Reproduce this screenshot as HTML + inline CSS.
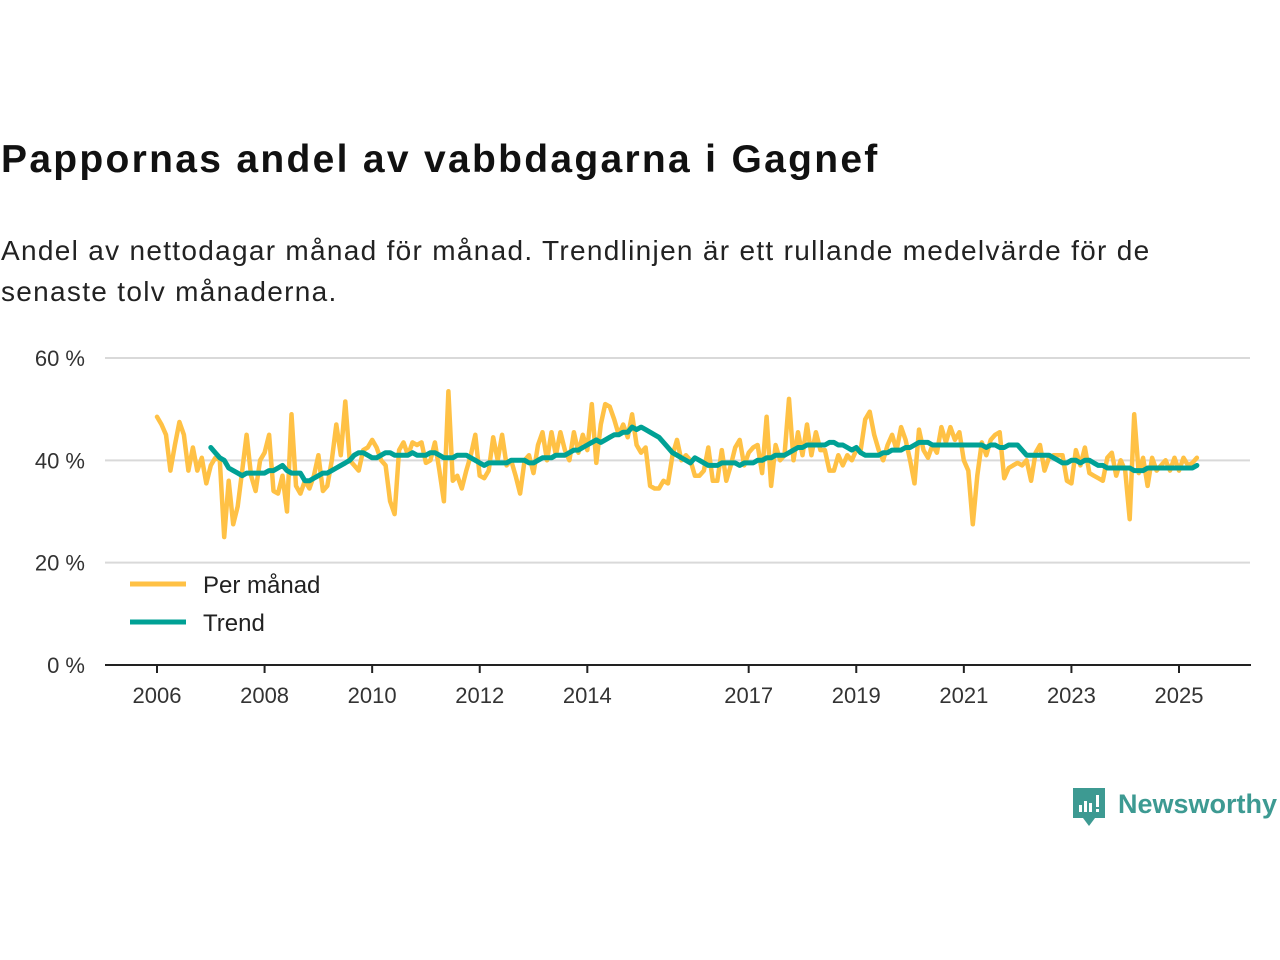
<!DOCTYPE html>
<html><head><meta charset="utf-8"><style>
body{margin:0;width:1280px;height:960px;background:#fff;font-family:"Liberation Sans",sans-serif;overflow:hidden;position:relative}
#title{position:absolute;left:1px;top:138px;font-size:39px;letter-spacing:2.3px;font-weight:bold;color:#111;margin:0}
#sub{position:absolute;left:1px;top:230px;font-size:28px;letter-spacing:1.3px;line-height:41px;color:#222;width:1225px}
svg{position:absolute;left:0;top:0}
</style></head><body>
<h1 id="title">Pappornas andel av vabbdagarna i Gagnef</h1>
<div id="sub">Andel av nettodagar månad för månad. Trendlinjen är ett rullande medelvärde för de senaste tolv månaderna.</div>
<svg id="chart" width="1280" height="960"></svg>
<script>
const yTicks=[0,20,40,60];
const xTickYears=[2006,2008,2010,2012,2014,2017,2019,2021,2023,2025];
const monthly=[
48.5,47,45,38,43,47.5,45,38,42.5,38,40.5,35.5,
39,40.5,40,25,36,27.5,31,38,45,37,34,40,
41.5,45,34,33.5,37,30,49,35,33.5,36,34.5,37,
41,34,35,40,47,41,51.5,40,39,38,42,42.5,
44,42.5,40,39,32,29.5,42,43.5,41,43.5,43,43.5,
39.5,40,43.5,38,32,53.5,36,37,34.5,38,41,45,
37,36.5,38,44.5,40,45,39,40,37,33.5,40,41,
37.5,43,45.5,40,45.5,41,45.5,42,40,45.5,41.5,45,
42,51,39.5,47,51,50.5,48,45,47,44.5,49,43,
41.5,42.5,35,34.5,34.5,36,35.5,41,44,40,41,40,
37,37,38,42.5,36,36,42,36,39,42.5,44,39,
41.5,42.5,43,37.5,48.5,35,43,40,41,52,40,45.5,
41,47,41,45.5,42,42,38,38,41,39,41,40,
42,42,48,49.5,45,42,40,43,45,42,46.5,44,
40,35.5,46,42,40.5,43,41.5,46.5,43.5,46.5,44,45.5,
40,38,27.5,37,43.5,41,44,45,45.5,36.5,38.5,39,
39.5,39,40,36,41.5,43,38,40.5,41,41,41,36,
35.5,42,39,42.5,37.5,37,36.5,36,40.5,41.5,37,40,
38,28.5,49,37.5,40.5,35,40.5,38,39,40,38,40.5,
38,40.5,39,39.5,40.5];
const trend=[
42.5,41.5,40.5,40,38.5,38,37.5,37,37.5,37.5,37.5,37.5,
37.5,38,38,38.5,39,38,37.5,37.5,37.5,36,36,36.5,
37,37.5,37.5,38,38.5,39,39.5,40,41,41.5,41.5,41,
40.5,40.5,41,41.5,41.5,41,41,41,41,41.5,41,41,
41,41.5,41.5,41,40.5,40.5,40.5,41,41,41,40.5,40,
39.5,39,39.5,39.5,39.5,39.5,39.5,40,40,40,40,39.5,
39.5,40,40.5,40.5,40.5,41,41,41,41.5,42,42,42.5,
43,43.5,44,43.5,44,44.5,45,45,45.5,45.5,46.5,46,
46.5,46,45.5,45,44.5,43.5,42.5,41.5,41,40.5,40,39.5,
40.5,40,39.5,39,39,39,39.5,39.5,39.5,39.5,39,39.5,
39.5,39.5,40,40,40.5,40.5,41,41,41,41.5,42,42.5,
42.5,43,43,43,43,43,43.5,43.5,43,43,42.5,42,
42.5,41.5,41,41,41,41,41.5,41.5,42,42,42,42.5,
42.5,43,43.5,43.5,43.5,43,43,43,43,43,43,43,
43,43,43,43,43,42.5,43,43,42.5,42.5,43,43,
43,42,41,41,41,41,41,41,40.5,40,39.5,39.5,
40,40,39.5,40,40,39.5,39,39,38.5,38.5,38.5,38.5,
38.5,38.5,38,38,38,38.5,38.5,38.5,38.5,38.5,38.5,38.5,
38.5,38.5,38.5,38.5,39];
const NS='http://www.w3.org/2000/svg';
const svg=document.getElementById('chart');
const X0=157,PX_YEAR=(1179-157)/19;
function xScale(t){return X0+(t-2006)*PX_YEAR;}
function yScale(v){return 665-v*(665-358)/60;}
function mk(tag,attrs){const e=document.createElementNS(NS,tag);for(const k in attrs)e.setAttribute(k,attrs[k]);svg.appendChild(e);return e;}
yTicks.forEach(v=>{
  if(v>0){const g=mk('line',{x1:105,x2:1250,y1:yScale(v),y2:yScale(v),stroke:'#d9d9d9','stroke-width':2});
  
  }
  const t=mk('text',{x:85,y:yScale(v)+8,'text-anchor':'end','font-size':22,fill:'#333'});
  t.textContent=v+' %';
  
  
});
const ax=mk('line',{x1:105,x2:1251,y1:665,y2:665,stroke:'#222','stroke-width':2});


xTickYears.forEach(yr=>{
  const x=xScale(yr);
  const tk=mk('line',{x1:x,x2:x,y1:665,y2:673,stroke:'#222','stroke-width':2});
  
  
  const t=mk('text',{x:x,y:703,'text-anchor':'middle','font-size':22,fill:'#333'});
  t.textContent=yr;
  
  
});
function path(arr,start,color,w,name){
  const d=arr.map((v,i)=>(i?'L':'M')+xScale(start+i/12).toFixed(1)+','+yScale(v).toFixed(1)).join('');
  const p=mk('path',{d:d,fill:'none',stroke:color,'stroke-width':w,'stroke-linejoin':'round','stroke-linecap':'round'});
  
  
}
path(monthly,2006,'#ffc145',4.5,'monthly-line');
path(trend,2007,'#00a195',5,'trend-line');
[['Per månad','#ffc145',584],['Trend','#00a195',622]].forEach(([lab,c,y])=>{
  const l=mk('line',{x1:130,x2:186,y1:y,y2:y,stroke:c,'stroke-width':5});
  
  
  const t=mk('text',{x:203,y:y+9,'font-size':24,fill:'#222'});
  t.textContent=lab;
  
  
});
</script>
<svg width="1280" height="960" style="pointer-events:none">
<path d="M1073 788h32v30h-10l-6 8-6-8h-10z" fill="#3d9a92"/>
<rect x="1079" y="805" width="3" height="7" fill="#fff"/><rect x="1084" y="801" width="3" height="11" fill="#fff"/><rect x="1089" y="803" width="3" height="9" fill="#fff"/><rect x="1096" y="795" width="3" height="12" fill="#fff"/><rect x="1096" y="809" width="3" height="3" fill="#fff"/>
<text x="1118" y="813" font-size="27" font-weight="bold" fill="#3d9a92" font-family="Liberation Sans, sans-serif">Newsworthy</text>
</svg>
</body></html>
